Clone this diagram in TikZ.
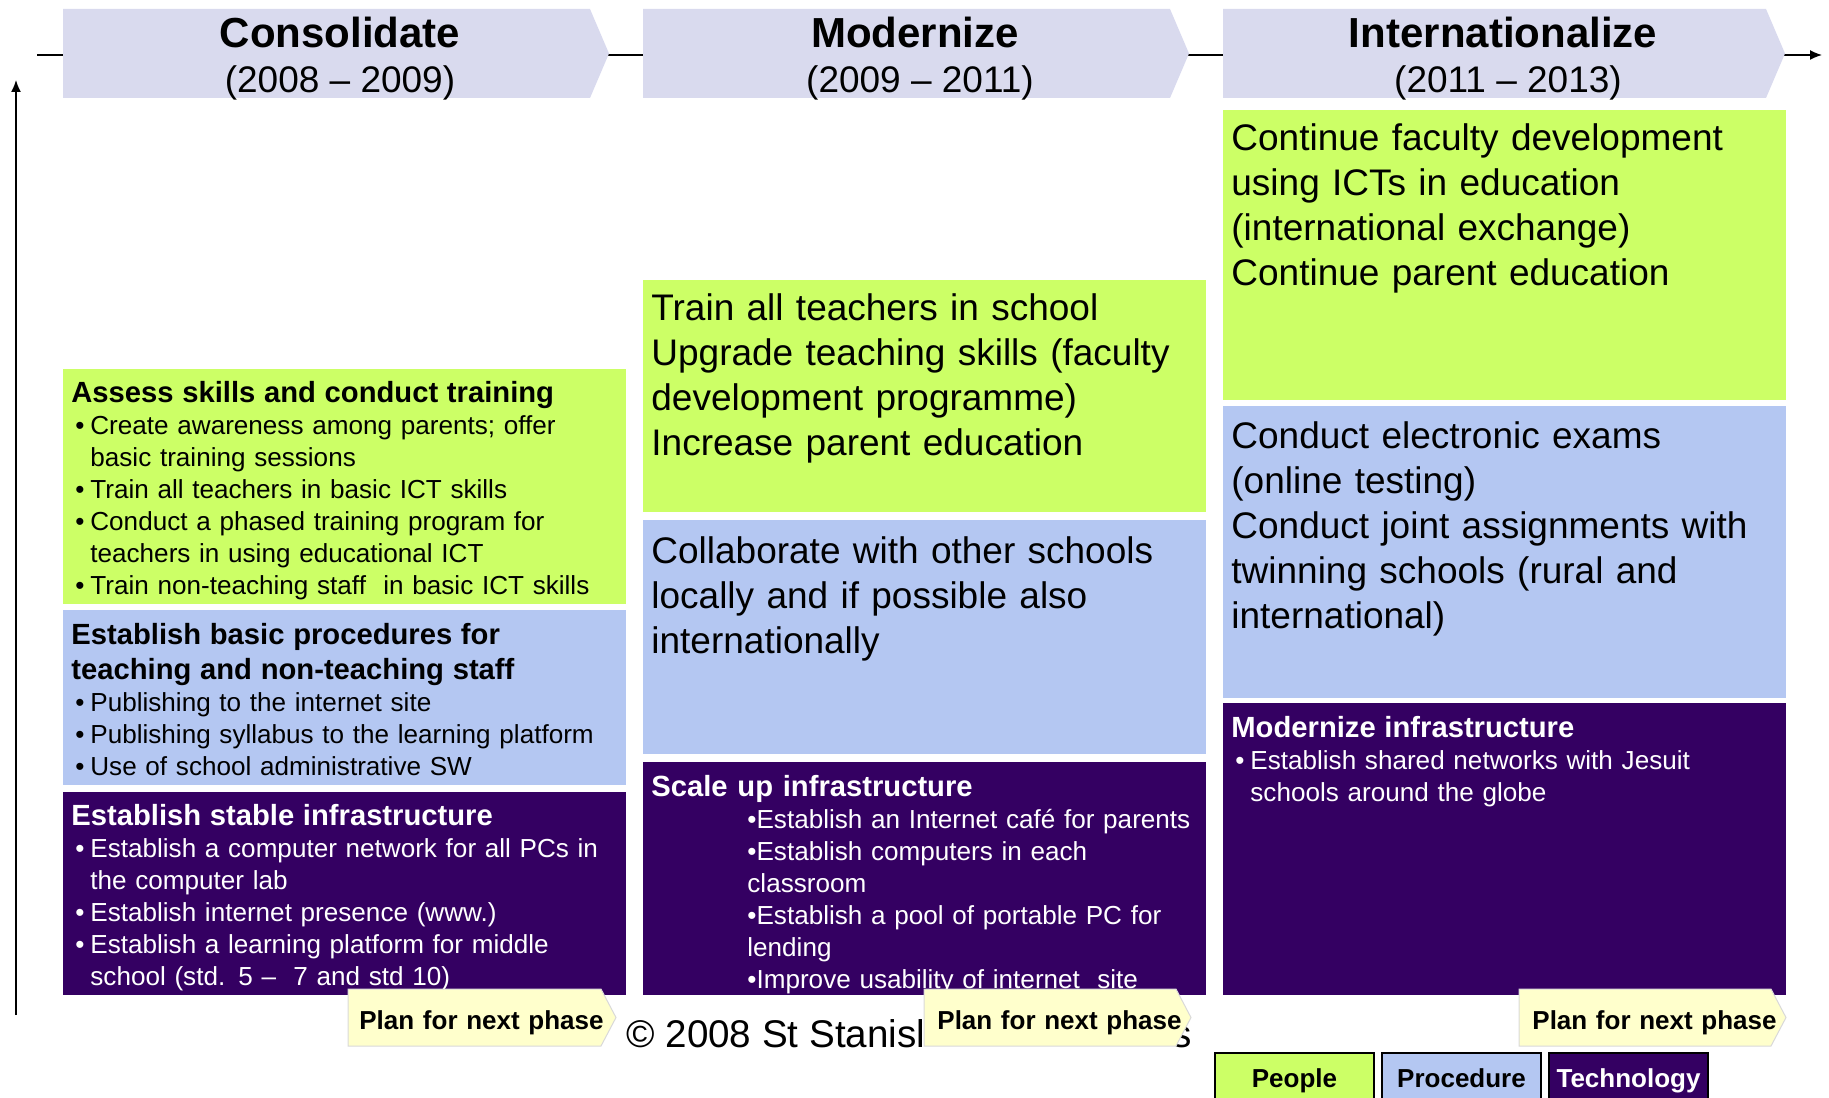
\documentclass[tikz,border=0pt]{standalone}
\usepackage{fontspec}
\setmainfont{Liberation Sans}
\usetikzlibrary{arrows.meta}

\definecolor{hdrgray}{HTML}{D9DAEE}
\definecolor{pplgreen}{HTML}{CCFF66}
\definecolor{procblue}{HTML}{B4C7F2}
\definecolor{techpurple}{HTML}{340062}
\definecolor{planyellow}{HTML}{FFFFCC}

\newcommand{\bodyfont}{\normalfont\fontsize{13.05}{16}\selectfont}
\newcommand{\headfont}{\bfseries\fontsize{14.6}{17.6}\selectfont}
\newcommand{\bigfont}{\fontsize{18.5}{22.5}\selectfont}
\newcommand{\phasefont}{\bfseries\fontsize{21}{25}\selectfont}
\newcommand{\yearfont}{\fontsize{18.5}{22}\selectfont}
\newcommand{\tagfont}{\bfseries\fontsize{13}{16}\selectfont}
\newcommand{\bpt}{\par\bodyfont\hangindent=9.5pt\hangafter=1\noindent\hspace*{2pt}\makebox[7.5pt][l]{\textbullet}}

\begin{document}
\begin{tikzpicture}[x=0.5pt,y=-0.5pt,
  txt/.style={anchor=base west, inner sep=0pt, text width=300pt, align=left, font=\bodyfont},
  hdr/.style={anchor=base, inner sep=0pt},
  plan/.style={fill=planyellow, draw=black!15, line width=0.5pt},
  legbox/.style={draw=black, line width=1pt}]
\useasboundingbox (0,0) rectangle (1829,1097);
\clip (0,0) rectangle (1829,1097);

% time axes
\draw[line width=0.75pt,-{Latex[length=6pt,width=5pt]}] (37,55) -- (1822,55);
\draw[line width=0.75pt,-{Latex[length=6pt,width=5pt]}] (16,1015) -- (16,80);

% phase headers
\foreach \x/\e in {63/590,643/1170,1223/1766}
  \fill[hdrgray] (\x,9) -- (\e,9) -- (\e+19,53.5) -- (\e,98) -- (\x,98) -- cycle;
\node[hdr] (con) at (340,48) {\phasefont Consolidate};
\node[hdr] (conyr) at (340,93) {\yearfont (2008 -- 2009)};
\node[hdr] (mod) at (915,48) {\phasefont Modernize};
\node[hdr] (modyr) at (920,93) {\yearfont (2009 -- 2011)};
\node[hdr] (intl) at (1503,48) {\phasefont Internationalize};
\node[hdr] (intlyr) at (1508,93) {\yearfont (2011 -- 2013)};

% column 1
\fill[pplgreen] (63,369) rectangle (626,604);
\fill[procblue] (63,610) rectangle (626,785);
\fill[techpurple] (63,792) rectangle (626,995);
\node[txt] (conppl) at (71,402) {\headfont Assess skills and conduct training
  \bpt Create awareness among parents; offer\newline basic training sessions
  \bpt Train all teachers in basic ICT skills
  \bpt Conduct a phased training program for\newline teachers in using educational ICT
  \bpt Train non-teaching staff \ in basic ICT skills\par};
\node[txt] (conproc) at (71,644) {\headfont Establish basic procedures for\newline teaching and non-teaching staff
  \bpt Publishing to the internet site
  \bpt Publishing syllabus to the learning platform
  \bpt Use of school administrative SW\par};
\node[txt, text=white] (contech) at (71,825) {\headfont Establish stable infrastructure
  \bpt Establish a computer network for all PCs in\newline the computer lab
  \bpt Establish internet presence (www.)
  \bpt Establish a learning platform for middle\newline school (std. 5 -- \ 7 and std 10)\par};

% column 2
\fill[pplgreen] (643,280) rectangle (1206,512);
\fill[procblue] (643,520) rectangle (1206,754);
\fill[techpurple] (643,762) rectangle (1206,995);
\node[txt, font=\bigfont] (modppl) at (651,320) {Train all teachers in school\\
  Upgrade teaching skills (faculty\\ development programme)\\ Increase parent education};
\node[txt, font=\bigfont] (modproc) at (651,563) {Collaborate with other schools\\
  locally and if possible also\\ internationally};
\node[txt, text=white, font=\headfont] (modtech) at (651,796) {Scale up infrastructure};
\node[txt, text=white] (modtechlist) at (747,828) {\textbullet Establish an Internet café for parents\\
  \textbullet Establish computers in each\\ classroom\\
  \textbullet Establish a pool of portable PC for\\ lending\\
  \textbullet Improve usability of internet \ site};

% column 3
\fill[pplgreen] (1223,110) rectangle (1786,400);
\fill[procblue] (1223,406) rectangle (1786,698);
\fill[techpurple] (1223,703) rectangle (1786,995);
\node[txt, font=\bigfont] (intlppl) at (1231,150) {Continue faculty development\\
  using ICTs in education\\ (international exchange)\\ Continue parent education};
\node[txt, font=\bigfont] (intlproc) at (1231,448) {Conduct electronic exams\\
  (online testing)\\ Conduct joint assignments with\\ twinning schools (rural and\\ international)};
\node[txt, text=white] (intltech) at (1231,737) {\headfont Modernize infrastructure
  \bpt Establish shared networks with Jesuit\newline schools around the globe\par};

% footer
\node[anchor=base west, inner sep=0pt, font=\fontsize{19.3}{23}\selectfont] (copy) at (626,1047) {© 2008 St Stanisl};
\node[anchor=base east, inner sep=0pt, font=\fontsize{19.3}{23}\selectfont] (copyend) at (1192,1047) {s};

% plan for next phase
\foreach \x/\e in {348/601,924/1176,1519/1771}
  \filldraw[plan] (\x,989) -- (\e,989) -- (\e+15,1017.5) -- (\e,1046) -- (\x,1046) -- cycle;
\node[txt, font=\tagfont] (plan1) at (359,1029) {Plan for next phase};
\node[txt, font=\tagfont] (plan2) at (937,1029) {Plan for next phase};
\node[txt, font=\tagfont] (plan3) at (1532,1029) {Plan for next phase};

% legend
\filldraw[legbox, fill=pplgreen] (1215,1053) rectangle (1374,1110);
\filldraw[legbox, fill=procblue] (1382,1053) rectangle (1541,1110);
\filldraw[legbox, fill=techpurple] (1549,1053) rectangle (1708,1110);
\node[hdr, font=\tagfont] (legppl) at (1294.5,1087) {People};
\node[hdr, font=\tagfont] (legproc) at (1461.5,1087) {Procedure};
\node[hdr, font=\tagfont, text=white] (legtech) at (1628.5,1087) {Technology};
\end{tikzpicture}
\end{document}
